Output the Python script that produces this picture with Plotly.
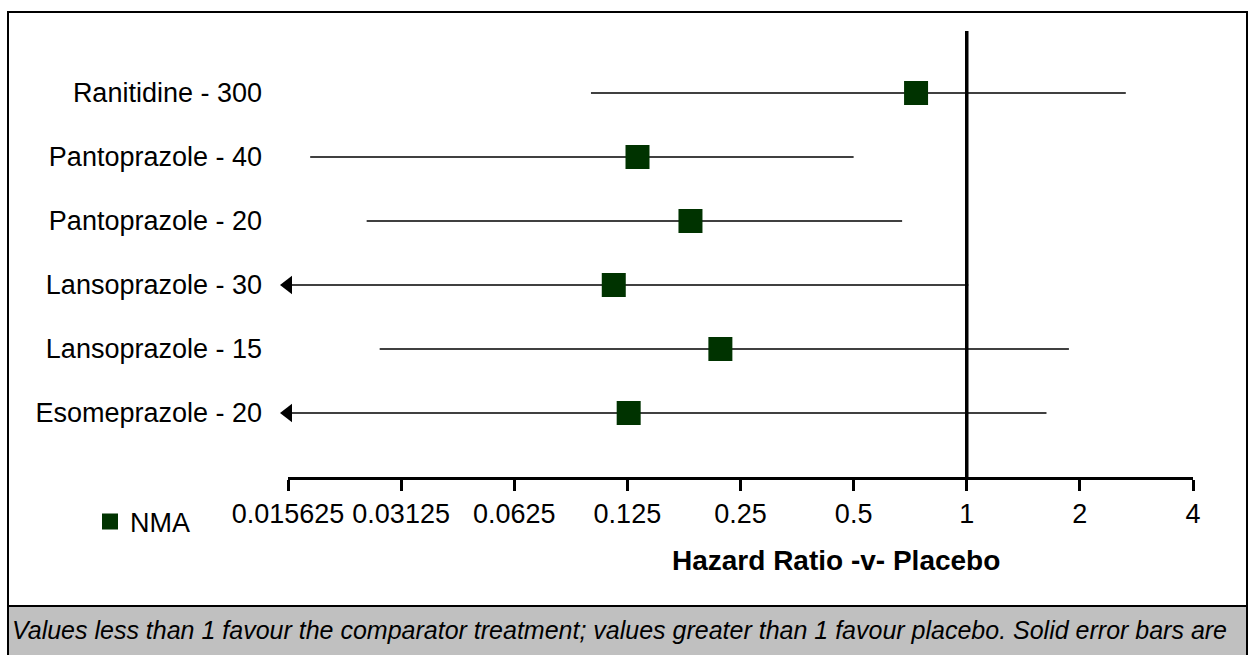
import plotly.graph_objects as go
import math

# ---- data ----
drugs = ["Ranitidine - 300", "Pantoprazole - 40", "Pantoprazole - 20",
         "Lansoprazole - 30", "Lansoprazole - 15", "Esomeprazole - 20"]
hr = [0.733, 0.133, 0.184, 0.115, 0.221, 0.126]
ci_low = [0.100, 0.0179, 0.0253, 0.010, 0.0274, 0.010]
ci_high = [2.65, 0.50, 0.673, 1.01, 1.87, 1.63]
tick_vals = [0.015625, 0.03125, 0.0625, 0.125, 0.25, 0.5, 1, 2, 4]
tick_text = ["0.015625", "0.03125", "0.0625", "0.125", "0.25", "0.5", "1", "2", "4"]
series_name = "NMA"
x_title = "Hazard Ratio -v- Placebo"
caption = ("Values less than 1 favour the comparator treatment; values greater than 1 "
           "favour placebo. Solid error bars are")

W, H = 1251, 655
L, R, T, B = 288, 1193, 29, 477  # plot area in pixels
FONT = "Liberation Sans, Arial, sans-serif"
FS = 27


def px(xp):
    return (xp - L) / (R - L)


def py(yp):
    return (B - yp) / (B - T)


n = len(drugs)
ypos = list(range(n, 0, -1))

fig = go.Figure()

fig.add_trace(go.Scatter(
    x=hr, y=ypos, mode="markers", name=series_name,
    marker=dict(symbol="square", size=24, color="#003300", line=dict(width=0)),
    error_x=dict(type="data", symmetric=False,
                 array=[h - v for v, h in zip(hr, ci_high)],
                 arrayminus=[v - lo for v, lo in zip(hr, ci_low)],
                 color="black", thickness=1.6, width=0),
    showlegend=True,
))

# arrows for truncated lower limits
arrow_rows = [i for i, lo in enumerate(ci_low) if lo < tick_vals[0]]
fig.add_trace(go.Scatter(
    x=[tick_vals[0]] * len(arrow_rows), y=[ypos[i] for i in arrow_rows],
    mode="markers", showlegend=False, cliponaxis=False, hoverinfo="skip",
    marker=dict(symbol="triangle-left", size=16, color="black"),
))

shapes = [
    # line of no effect
    dict(type="line", xref="x", yref="y", x0=1, x1=1, y0=0, y1=n + 0.97,
         line=dict(color="black", width=3.5), layer="above"),
    # outer border
    dict(type="rect", xref="paper", yref="paper", x0=px(8), x1=px(1247),
         y0=py(606), y1=py(12), line=dict(color="black", width=2)),
    # caption box
    dict(type="rect", xref="paper", yref="paper", x0=px(8), x1=px(1247),
         y0=py(670), y1=py(606), fillcolor="#c0c0c0",
         line=dict(color="black", width=2), layer="below"),
]

annotations = [
    dict(text="<b>" + x_title + "</b>", xref="paper", yref="paper",
         x=px(836), y=py(560), xanchor="center", yanchor="middle",
         showarrow=False, font=dict(family=FONT, size=28, color="black")),
    dict(text="<i>" + caption + "</i>", xref="paper", yref="paper",
         x=px(10), y=py(630), xanchor="left", yanchor="middle",
         showarrow=False, font=dict(family=FONT, size=25, color="black")),
]

fig.update_layout(
    width=W, height=H,
    margin=dict(l=L, r=W - R, t=T, b=H - B, pad=0),
    paper_bgcolor="white", plot_bgcolor="white",
    font=dict(family=FONT, size=FS, color="black"),
    shapes=shapes, annotations=annotations,
    showlegend=True,
    legend=dict(x=px(90), y=py(522), xanchor="left", yanchor="middle",
                bgcolor="rgba(0,0,0,0)", font=dict(family=FONT, size=FS),
                itemsizing="trace"),
    xaxis=dict(type="log", range=[math.log10(tick_vals[0]), math.log10(tick_vals[-1])],
               tickvals=tick_vals, ticktext=tick_text, tickangle=0,
               ticks="outside", ticklen=11, tickwidth=3, tickcolor="black",
               showline=True, linewidth=3, linecolor="black",
               showgrid=False, zeroline=False, ticklabelstandoff=0,
               tickfont=dict(family=FONT, size=FS)),
    yaxis=dict(range=[0, n + 1], tickvals=ypos, ticktext=drugs,
               showgrid=False, zeroline=False, showline=False, ticks="",
               ticklabelstandoff=25, tickfont=dict(family=FONT, size=FS)),
)

fig.write_html("out.html")
